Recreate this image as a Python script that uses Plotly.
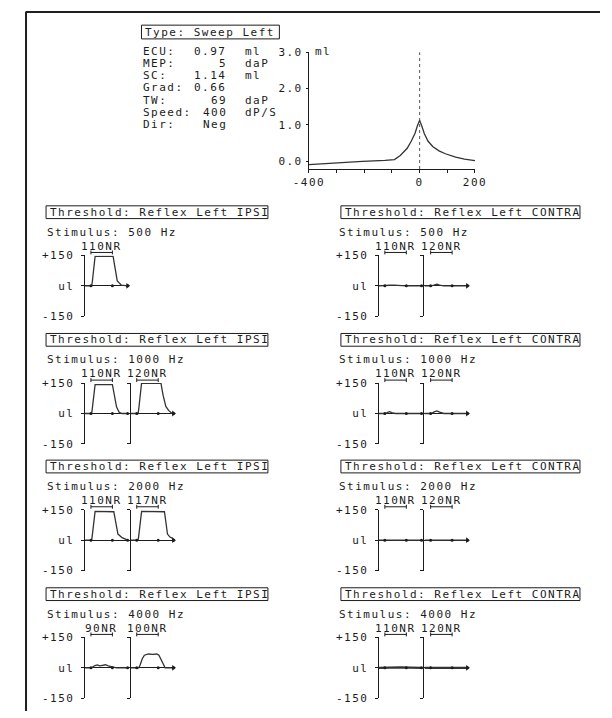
import plotly.graph_objects as go

# ---------------- tympanogram summary ----------------
info_labels = ["ECU:", "MEP:", "SC:", "Grad:", "TW:", "Speed:", "Dir:"]
info_values = ["0.97", "5", "1.14", "0.66", "69", "400", "Neg"]
info_units = ["ml", "daP", "ml", "", "daP", "dP/S", ""]

# pressure (daP) vs compliance (ml)
tymp_pressure = [-400, -310, -207, -125, -91, -70, -45, -30, -17, -8, 0,
                 8, 17, 30, 47, 70, 93, 130, 162, 200]
tymp_compliance = [-0.10, -0.05, -0.01, 0.02, 0.04, 0.15, 0.35, 0.55, 0.76, 0.97, 1.12,
                   0.96, 0.75, 0.55, 0.40, 0.28, 0.20, 0.11, 0.05, 0.01]
tymp_xticks = [-400, -300, -200, -100, 0, 100, 200]
tymp_xlabels = ["-400", "", "", "", "0", "", "200"]
tymp_yticks = [0, 1, 2, 3]
tymp_ylabels = ["0.0", "1.0", "2.0", "3.0"]

# ---------------- acoustic reflex thresholds ----------------
freqs = [500, 1000, 2000, 4000]
ipsi_levels = [["110NR"], ["110NR", "120NR"], ["110NR", "117NR"], ["90NR", "100NR"]]
contra_levels = [["110NR", "120NR"], ["110NR", "120NR"], ["110NR", "120NR"], ["110NR", "120NR"]]

stim_on, stim_off, window_end = 0.45, 2.0, 3.1   # seconds

# IPSI responses (time s, deflection)
ipsi_500_t = [[0, 0.5, 0.55, 0.75, 2.05, 2.2, 2.35, 2.65, 2.85, 3.1]]
ipsi_500_a = [[0, 0, 20, 145, 145, 80, 24, 3, 0, 0]]
ipsi_1000_t = [[0, 0.5, 0.55, 0.75, 2.0, 2.15, 2.3, 2.5, 2.7, 3.1],
               [0, 0.55, 0.6, 0.8, 2.2, 2.35, 2.55, 2.75, 2.95, 3.1]]
ipsi_1000_a = [[0, 0, 25, 142, 142, 85, 32, 5, 0, 0],
               [0, 0, 25, 150, 148, 90, 35, 15, 3, 0]]
ipsi_2000_t = [[0, 0.5, 0.55, 0.75, 2.1, 2.25, 2.4, 2.7, 2.95, 3.1],
               [0, 0.55, 0.6, 0.8, 2.45, 2.55, 2.67, 2.85, 3.05, 3.1]]
ipsi_2000_a = [[0, 0, 25, 142, 140, 80, 30, 12, 5, 0],
               [0, 0, 25, 142, 140, 85, 30, 15, 8, 0]]
ipsi_4000_t = [[0, 0.5, 0.7, 0.9, 1.1, 1.3, 1.5, 1.7, 1.9, 2.1, 2.3, 3.1],
               [0, 0.6, 0.7, 0.85, 1.0, 1.3, 1.6, 1.9, 2.05, 2.2, 2.4, 2.5, 3.1]]
ipsi_4000_a = [[0, 0, 10, 14, 10, 12, 15, 10, 6, 3, 0, 0],
               [0, 0, 15, 45, 62, 68, 66, 68, 62, 40, 10, 0, 0]]

# CONTRA responses
contra_500_t = [[0, 0.5, 0.8, 1.1, 1.4, 2.0, 3.1], [0, 0.5, 0.7, 0.9, 1.1, 1.4, 3.1]]
contra_500_a = [[0, 0, 3, 4, 2, 0, 0], [0, 0, 4, 8, 4, 0, 0]]
contra_1000_t = [[0, 0.5, 0.65, 0.8, 0.95, 1.2, 3.1], [0, 0.5, 0.7, 0.9, 1.1, 1.4, 3.1]]
contra_1000_a = [[0, 0, 5, 9, 4, 0, 0], [0, 0, 8, 13, 7, 0, 0]]
contra_2000_t = [[0, 0.5, 1.0, 1.5, 2.0, 3.1], [0, 0.5, 1.0, 1.5, 2.0, 3.1]]
contra_2000_a = [[0, 0, 2, 1, 0, 0], [0, 0, 3, 1, 0, 0]]
contra_4000_t = [[0, 0.4, 1.0, 1.6, 2.3, 3.1], [0, 0.5, 1.0, 1.5, 2.0, 3.1]]
contra_4000_a = [[0, 1, 2, 2, 1, 0], [0, 0, 2, 2, 1, 0]]

ipsi_t = [ipsi_500_t, ipsi_1000_t, ipsi_2000_t, ipsi_4000_t]
ipsi_a = [ipsi_500_a, ipsi_1000_a, ipsi_2000_a, ipsi_4000_a]
contra_t = [contra_500_t, contra_1000_t, contra_2000_t, contra_4000_t]
contra_a = [contra_500_a, contra_1000_a, contra_2000_a, contra_4000_a]

# ---------------- page geometry (pixels) ----------------
W, H = 612, 718
FONT = "DejaVu Sans Mono"
INK = "#1c1c1c"
FS = 11


def fx(px):
    return px / W


def fy(py):
    return 1 - py / H


def sp(s):
    # printer-style wide character pitch
    return f'<span style="letter-spacing:1.5px">{s}</span>' if s else s


font = dict(family=FONT, size=FS, color=INK)
fig = go.Figure()
layout = dict(width=W, height=H, margin=dict(l=0, r=0, t=0, b=0),
              paper_bgcolor="white", plot_bgcolor="rgba(0,0,0,0)", showlegend=False)
annotations, shapes = [], []


def text(s, px, py, xanchor="left", xref="paper", x=None):
    annotations.append(dict(text=sp(s), x=fx(px) if x is None else x, xref=xref,
                            y=fy(py), yref="paper", xanchor=xanchor, yanchor="middle",
                            showarrow=False, font=font))


def rect(l, r, t, b):
    shapes.append(dict(type="rect", xref="paper", yref="paper", x0=fx(l), x1=fx(r),
                       y0=fy(b), y1=fy(t), line=dict(color=INK, width=1)))


# page frame
shapes.append(dict(type="line", xref="paper", yref="paper", x0=fx(10), x1=1,
                   y0=fy(6), y1=fy(6), line=dict(color="#1e1e1e", width=2)))
shapes.append(dict(type="line", xref="paper", yref="paper", x0=fx(10.5), x1=fx(10.5),
                   y0=fy(6), y1=0, line=dict(color="#1e1e1e", width=2)))

# ---------------- tympanogram ----------------
rect(131.5, 276, 19.5, 33.5)
text("Type: Sweep Left", 133.5, 26.5)
row_y = [46, 58.5, 71, 83.5, 96, 108.5, 121]
for lab, val, unit, yy in zip(info_labels, info_values, info_units, row_y):
    text(lab, 131.5, yy)
    text(val, 223.5, yy, xanchor="right")
    if unit:
        text(unit, 238, yy)
text("ml", 311, 46)

axis_style = dict(showline=True, linecolor=INK, linewidth=1, ticks="outside",
                  tickcolor=INK, tickfont=font, showgrid=False, zeroline=False,
                  fixedrange=True)
layout["xaxis"] = dict(domain=[fx(307), fx(481)], range=[-400, 200], anchor="y",
                       tickvals=tymp_xticks, ticktext=[sp(s) for s in tymp_xlabels],
                       ticklen=3, **axis_style)
layout["yaxis"] = dict(domain=[fy(166), fy(47)], range=[-0.22, 3.0], anchor="x",
                       tickvals=tymp_yticks, ticktext=[sp(s) for s in tymp_ylabels],
                       ticklen=2, ticklabelstandoff=1, **axis_style)
fig.add_trace(go.Scatter(x=[0, 0], y=[-0.22, 3.0], mode="lines", xaxis="x", yaxis="y",
                         line=dict(color="#555", width=1, dash="dot"), hoverinfo="skip"))
fig.add_trace(go.Scatter(x=tymp_pressure, y=tymp_compliance, mode="lines", xaxis="x",
                         yaxis="y", line=dict(color="#333", width=1.3),
                         hoverinfo="skip"))

# ---------------- reflex panels ----------------
row_centres = [210, 340, 469, 599]
columns = [
    dict(name="IPSI", box=(31.5, 264), stim_x=30.5, axes=[72, 120],
         levels=ipsi_levels, t=ipsi_t, a=ipsi_a),
    dict(name="CONTRA", box=(340.5, 591), stim_x=336, axes=[380, 428],
         levels=contra_levels, t=contra_t, a=contra_a),
]
PANEL_W = 45
n = 1
for col in columns:
    for r, (freq, row) in enumerate(zip(freqs, row_centres)):
        rect(col["box"][0], col["box"][1], row - 6.5, row + 6.5)
        text(f"Threshold: Reflex Left {col['name']}", col["box"][0] + 2, row)
        text(f"Stimulus: {freq} Hz", col["stim_x"], row + 20.5)
        levels = col["levels"][r]
        for j, level in enumerate(levels):
            n += 1
            ax_px = col["axes"][j]
            xk, yk = f"x{n}", f"y{n}"
            layout[f"xaxis{n}"] = dict(domain=[fx(ax_px), fx(ax_px + PANEL_W)],
                                       range=[0, window_end], anchor=yk, visible=False,
                                       fixedrange=True)
            layout[f"yaxis{n}"] = dict(domain=[fy(row + 106), fy(row + 44)],
                                       range=[-150, 150], anchor=xk, showline=True,
                                       linecolor=INK, linewidth=1, ticks="outside",
                                       ticklen=3, tickcolor=INK, tickvals=[-150, 0, 150],
                                       ticktext=[sp("-150"), sp("ul"), sp("+150")],
                                       showticklabels=(j == 0), tickfont=font,
                                       ticklabelstandoff=4, zeroline=True,
                                       zerolinecolor=INK, zerolinewidth=1,
                                       showgrid=False, fixedrange=True)
            thick = col["name"] == "CONTRA" and freq == 4000
            fig.add_trace(go.Scatter(x=col["t"][r][j], y=col["a"][r][j], mode="lines",
                                     xaxis=xk, yaxis=yk, hoverinfo="skip",
                                     line=dict(color="#333", width=2.2 if thick else 1.3)))
            fig.add_trace(go.Scatter(x=[stim_on, stim_off, window_end], y=[0, 0, 0],
                                     mode="markers", xaxis=xk, yaxis=yk, hoverinfo="skip",
                                     cliponaxis=False,
                                     marker=dict(symbol="circle", size=3, color=INK)))
            # stimulus bracket with its level label
            yb = fy(row + 41)
            shapes.append(dict(type="line", xref=xk, yref="paper", x0=stim_on, x1=stim_off,
                               y0=yb, y1=yb, line=dict(color=INK, width=1)))
            for xe in (stim_on, stim_off):
                shapes.append(dict(type="line", xref=xk, yref="paper", x0=xe, x1=xe,
                                   y0=fy(row + 43), y1=fy(row + 39),
                                   line=dict(color=INK, width=1)))
            text(level, 0, row + 34.5, xanchor="center", xref=xk, x=(stim_on + stim_off) / 2)
        last = f"x{n}"
        fig.add_trace(go.Scatter(x=[window_end], y=[0], mode="markers", xaxis=last,
                                 yaxis=f"y{n}", hoverinfo="skip", cliponaxis=False,
                                 marker=dict(symbol="triangle-right", size=5, color=INK)))
        text("3s", 0, row + 75, xref=last, x=3.55)

layout["annotations"] = annotations
layout["shapes"] = shapes
fig.update_layout(**layout)
fig.write_html("out.html")
